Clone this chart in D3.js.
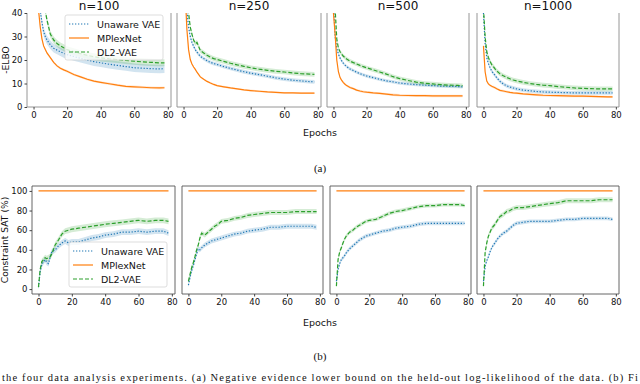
<!DOCTYPE html>
<html>
<head>
<meta charset="utf-8">
<script src="https://cdn.jsdelivr.net/npm/d3@7"></script>
<style>
  body { margin: 0; background: #fff; }
  svg { display: block; }
</style>
</head>
<body>
<svg id="fig" width="640" height="384"></svg>
<script>
const epochs = [0,1,2,3,4,5,6,7,8,10,12,14,16,18,20,24,28,32,36,40,45,50,55,60,65,70,75,78];

const panelTitles = ["n=100", "n=250", "n=500", "n=1000"];
const seriesNames = ["Unaware VAE", "MPlexNet", "DL2-VAE"];
const xTicks = [0, 20, 40, 60, 80];
const elboTicks = [0, 10, 20, 30, 40];
const satTicks = [0, 20, 40, 60, 80, 100];

// -ELBO, one list per panel
const elboUnaware = [
  [90,75,60,48,41,36,32,30,28.5,26.5,25,24.2,23.5,22.8,22.3,21.5,20.7,20,19.3,18.8,18.2,17.7,17.2,16.7,16.5,16.3,16.2,16.3],
  [80,60,41,34,30,27.5,25.8,24.4,23.3,21.6,20.6,19.7,19,18.5,18.1,17.2,16.4,15.7,15,14.4,13.8,13.1,12.4,11.9,11.4,11.1,10.8,10.7],
  [45,30,25,22.5,20.8,19.6,18.6,17.8,17.2,16.2,15.5,14.8,14.2,13.7,13.2,12.5,11.8,11.1,10.7,10.2,9.8,9.5,9.3,9.1,8.9,8.8,8.7,8.6],
  [40,27,21,18.5,16.7,15.3,14.3,13.5,12.5,10.9,9.8,9,8.5,8.1,7.7,7.2,6.9,6.6,6.4,6.3,6.2,6.1,6,6,6,6,6,6]
];
const elboMplex = [
  [80,65,52,41,34,29,26,24.5,23,21,19,17.5,16.5,15.8,15.2,13.8,12.8,11.8,11,10.5,9.9,9.3,8.8,8.6,8.4,8.2,8.1,8.2],
  [70,48,33,24.4,20.2,18.3,17,16,14.8,12.8,11.8,10.9,10.2,9.6,9.1,8.6,8.1,7.7,7.3,7,6.7,6.4,6.2,6,6,5.9,5.9,5.9],
  [40,31,20,15,12.5,11.3,10.4,9.7,9.1,8.3,7.8,7.2,6.8,6.5,6.3,6,5.8,5.5,5.2,5,4.9,4.8,4.8,4.7,4.7,4.7,4.7,4.7],
  [26,15,11,9.8,9.2,8.8,8.5,8.2,7.8,7.1,6.8,6.5,6.2,6,5.9,5.6,5.4,5.2,5,4.9,4.8,4.7,4.6,4.6,4.5,4.4,4.3,4.3]
];
const elboDl2 = [
  [95,85,75,65,58,52,46,41,37,31,28.5,27,26,25.2,24.4,23.5,22.7,22,21.4,20.9,20.5,20.2,19.8,19.5,19.2,19,18.8,18.8],
  [85,65,48,40,34,31,28.5,27,27.5,24,23,22,21.2,20.6,20.2,19.4,18.6,17.9,17.3,16.7,16.1,15.6,15.2,14.9,14.5,14.2,14,13.9],
  [50,42,29,25,23.5,22.5,21.6,21,20.4,19.5,18.9,18.3,17.7,17.2,16.7,15.8,14.9,14,12.9,12.1,11.3,10.6,10.1,9.8,9.5,9.3,9.2,9.1],
  [42,30,23.5,21,19.4,18,17.2,16.2,15.4,14.1,13.3,12.6,12,11.5,11.1,10.5,10,9.6,9.3,9.1,8.7,8.4,8.1,7.9,7.8,7.7,7.7,7.7]
];
// half-width of the shaded band, per panel: [Unaware, MPlexNet, DL2]
const elboSpread = [[1.8, 0.5, 1.5], [0.8, 0.4, 1.0], [0.7, 0.5, 0.9], [0.8, 0.5, 1.0]];

// Constraint SAT (%), one list per panel
const satUnaware = [
  [2,18,25,28,30,27,26,33,38,40,44,47,49,47,48,48,50,52,53,55,56,58,58,59,58,59,59,57],
  [4,12,19,24,30,36,41,40,42,45,47,49,50,51,52,54,56,57,59,60,61,63,63,64,64,64,64,63],
  [8,20,26,30,32,34,37,39,41,44,47,50,52,54,55,57,59,60,62,63,64,66,67,67,67,67,67,67],
  [8,23,29,33,38,42,45,47,50,54,57,59,62,65,67,68,69,69,69,69,70,71,71,72,72,72,72,71]
];
const satMplex = [
  [100,100,100,100,100,100,100,100,100,100,100,100,100,100,100,100,100,100,100,100,100,100,100,100,100,100,100,100],
  [100,100,100,100,100,100,100,100,100,100,100,100,100,100,100,100,100,100,100,100,100,100,100,100,100,100,100,100],
  [100,100,100,100,100,100,100,100,100,100,100,100,100,100,100,100,100,100,100,100,100,100,100,100,100,100,100,100],
  [100,100,100,100,100,100,100,100,100,100,100,100,100,100,100,100,100,100,100,100,100,100,100,100,100,100,100,100]
];
const satDl2 = [
  [2,20,28,30,32,31,32,33,36,45,50,56,59,60,61,62,63,64,65,66,67,68,69,70,69,70,70,69],
  [8,15,22,27,33,40,45,52,57,55,58,61,64,66,69,70,72,73,75,76,77,78,78,78,79,79,79,79],
  [3,30,38,42,47,51,54,56,58,60,63,65,67,69,70,71,74,77,79,80,82,84,85,85,86,86,86,85],
  [3,37,47,54,58,62,64,66,69,74,76,79,80,82,83,83,84,85,86,87,88,90,90,90,90,91,91,91]
];
const satSpread = [[3, 0, 3], [2.5, 0, 2.5], [2, 0, 2], [2, 0, 2.5]];

const colors = ["#1f77b4", "#ff7f0e", "#2ca02c"];
const dashes = ["1.3,1.7", null, "4,2"];

const svg = d3.select("#fig");
const xDomain = [-3.9, 81.9];

const rows = [
  { name: "elbo", top: 13, bottom: 107, yDomain: [0, 40], yTicks: elboTicks, yLabel: "-ELBO",
    lefts: [27, 177, 327, 477], rights: [171, 321, 469, 619],
    data: [elboUnaware, elboMplex, elboDl2], spread: elboSpread,
    legend: { x: 65, y: 15 }, xLabelY: 136, frame: "#8a8a8a", topSpine: false },
  { name: "sat", top: 186, bottom: 294, yDomain: [-5, 105], yTicks: satTicks, yLabel: "Constraint SAT (%)",
    lefts: [32, 182, 330, 477], rights: [175, 323, 471, 619],
    data: [satUnaware, satMplex, satDl2], spread: satSpread,
    legend: { x: 69, y: 242 }, xLabelY: 326, frame: "#555", topSpine: true }
];

rows.forEach((row, r) => {
  for (let p = 0; p < 4; p++) {
    const left = row.lefts[p], right = row.rights[p];
    const x = d3.scaleLinear().domain(xDomain).range([left, right]);
    const y = d3.scaleLinear().domain(row.yDomain).range([row.bottom, row.top]);
    const g = svg.append("g");

    const clipId = "clip-" + row.name + "-" + p;
    svg.append("clipPath").attr("id", clipId)
      .append("rect")
      .attr("x", left).attr("y", row.top)
      .attr("width", right - left).attr("height", row.bottom - row.top);

    const plot = g.append("g").attr("clip-path", "url(#" + clipId + ")");

    // bands first, then lines
    row.data.forEach((series, s) => {
      const vals = series[p];
      const sd = row.spread[p][s];
      if (sd > 0) {
        const area = d3.area()
          .x((d, i) => x(epochs[i]))
          .y0(d => y(d - sd))
          .y1(d => y(d + sd));
        plot.append("path")
          .attr("d", area(vals))
          .attr("fill", colors[s])
          .attr("fill-opacity", 0.2);
      }
    });
    row.data.forEach((series, s) => {
      const line = d3.line().x((d, i) => x(epochs[i])).y(d => y(d));
      const path = plot.append("path")
        .attr("d", line(series[p]))
        .attr("fill", "none")
        .attr("stroke", colors[s])
        .attr("stroke-width", 1.2);
      if (dashes[s]) path.attr("stroke-dasharray", dashes[s]);
    });

    // spines
    const fr = g.append("g").attr("stroke", row.frame).attr("stroke-width", 0.9).attr("fill", "none");
    fr.append("line").attr("x1", left).attr("x2", left).attr("y1", row.top).attr("y2", row.bottom);
    fr.append("line").attr("x1", right).attr("x2", right).attr("y1", row.top).attr("y2", row.bottom);
    fr.append("line").attr("x1", left).attr("x2", right).attr("y1", row.bottom).attr("y2", row.bottom);
    if (row.topSpine) {
      fr.append("line").attr("x1", left).attr("x2", right).attr("y1", row.top).attr("y2", row.top);
    }

    // x axis
    const xAxis = g.append("g")
      .attr("transform", "translate(0," + row.bottom + ")")
      .call(d3.axisBottom(x).tickValues(xTicks).tickSize(2.5).tickPadding(2).tickFormat(d3.format("d")));
    xAxis.select(".domain").remove();
    xAxis.selectAll("line").attr("stroke", "#444");
    xAxis.selectAll("text").attr("font-family", "DejaVu Sans").attr("font-size", 8.5).attr("fill", "#111");

    if (p === 0) {
      const yAxis = g.append("g")
        .attr("transform", "translate(" + left + ",0)")
        .call(d3.axisLeft(y).tickValues(row.yTicks).tickSize(2.5).tickPadding(2).tickFormat(d3.format("d")));
      yAxis.select(".domain").remove();
      yAxis.selectAll("line").attr("stroke", "#444");
      yAxis.selectAll("text").attr("font-family", "DejaVu Sans").attr("font-size", 8.5).attr("fill", "#111");

      svg.append("text")
        .attr("transform", "translate(" + (r === 0 ? 9 : 8) + "," + ((row.top + row.bottom) / 2) + ") rotate(-90)")
        .attr("text-anchor", "middle")
        .attr("font-family", "DejaVu Sans").attr("font-size", 9.2).attr("fill", "#111")
        .text(row.yLabel);

      // legend
      const lg = svg.append("g").attr("transform", "translate(" + row.legend.x + "," + row.legend.y + ")");
      lg.append("rect")
        .attr("width", 98).attr("height", 45).attr("rx", 2)
        .attr("fill", "#fff").attr("fill-opacity", 0.8)
        .attr("stroke", "#d4d4d4").attr("stroke-width", 0.8);
      seriesNames.forEach((name, s) => {
        const ly = 9 + s * 14;
        const ln = lg.append("line")
          .attr("x1", 4).attr("x2", 24).attr("y1", ly).attr("y2", ly)
          .attr("stroke", colors[s]).attr("stroke-width", 1.2);
        if (dashes[s]) ln.attr("stroke-dasharray", dashes[s]);
        lg.append("text")
          .attr("x", 32).attr("y", ly + 3.5)
          .attr("font-family", "DejaVu Sans").attr("font-size", 9.5).attr("fill", "#111")
          .text(name);
      });
    }

    if (r === 0) {
      svg.append("text")
        .attr("x", (left + right) / 2).attr("y", 10)
        .attr("text-anchor", "middle")
        .attr("font-family", "DejaVu Sans").attr("font-size", 12).attr("fill", "#111")
        .text(panelTitles[p]);
    }
  }

  svg.append("text")
    .attr("x", 320).attr("y", row.xLabelY)
    .attr("text-anchor", "middle")
    .attr("font-family", "DejaVu Sans").attr("font-size", 9.5).attr("fill", "#111")
    .text("Epochs");
});

// sub-figure captions and the caption line at the bottom edge
svg.append("text").attr("x", 320).attr("y", 172).attr("text-anchor", "middle")
  .attr("font-family", "Liberation Serif").attr("font-size", 11).attr("fill", "#111").text("(a)");
svg.append("text").attr("x", 320).attr("y", 360).attr("text-anchor", "middle")
  .attr("font-family", "Liberation Serif").attr("font-size", 11).attr("fill", "#111").text("(b)");
svg.append("text").attr("x", 2).attr("y", 381)
  .attr("font-family", "Liberation Serif").attr("font-size", 10.5).attr("fill", "#111")
  .attr("textLength", 636).attr("lengthAdjust", "spacing")
  .text("the four data analysis experiments. (a) Negative evidence lower bound on the held-out log-likelihood of the data. (b) Fi");
</script>
</body>
</html>
